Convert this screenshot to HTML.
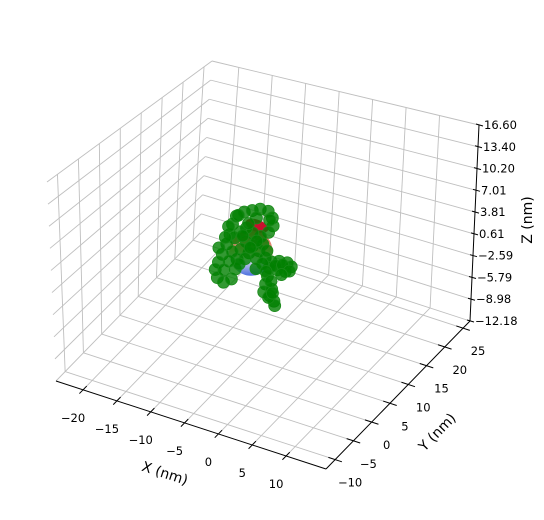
<!DOCTYPE html>
<html><head><meta charset="utf-8"><style>
html,body{margin:0;padding:0;background:#fff;}
svg{display:block;font-family:"DejaVu Sans","Liberation Sans",sans-serif;}
</style></head><body>
<svg id="chart" width="544" height="520" viewBox="0 0 544 520" xmlns="http://www.w3.org/2000/svg">
<g id="grid"></g>
<g id="axes"></g>
<g id="marks"></g>
<text x="165" y="478" font-size="14" text-anchor="middle" transform="rotate(18 165 473)">X (nm)</text>
<text x="437" y="437" font-size="14" text-anchor="middle" transform="rotate(-46 437 432)">Y (nm)</text>
<text x="527" y="225" font-size="14" text-anchor="middle" transform="rotate(-90 527 220)">Z (nm)</text>
</svg>
<script>
const xTicks = [-20, -15, -10, -5, 0, 5, 10];
const yTicks = [-10, -5, 0, 5, 10, 15, 20, 25];
const zTicks = [-12.18, -8.98, -5.79, -2.59, 0.61, 3.81, 7.01, 10.20, 13.40, 16.60];
const zTickLabels = ["\u221212.18","\u22128.98","\u22125.79","\u22122.59","0.61","3.81","7.01","10.20","13.40","16.60"];
const pointX = [-5.4,-4.8,-3.6,-2.4,-1.2,0,0.6,0.7,0,-1.2,-2.4,-3.3,-4.2,-5.1,-5.8,-3.4,-2.4,-1.5,-3.0,-1.9,-0.9,-4.2,-6.3,-7.0,-7.6,-8.1,-7.8,-6.9,-5.7,-5.1,-4.8,-5.5,-0.6,0.3,1.5,2.7,3.3,2.4,1.2,0,-0.3,-0.6,-0.9,0.3,0,0.6,0.7,
  -3.9,-1.8,-0.3,-2.8,-1.0,-3.6,-4.5,-6.0,-6.8,-7.5,-2.0,0.9,2.0,3.0,1.8,-0.5,0.2,-0.2,0.4,-4.5,-1.8,0.2,-6.0,-3.0,-6.5];
const pointY = [2,2,2,2,2,2,2,2,2,2,2,2,2,2,2,2,2,2,2,2,2,2,2,2,2,2,2,2,2,2,2,2,2,2,2,2,2,2,2,2,2,2,2,2,2,2,2,
  2,2,2,2,2,2,2,2,2,2,2,2,2,2,2,2,2,2,2,2,2,2,2,2,2];
const pointZ = [8.5,9.8,10.7,11.2,11.7,11.7,10.9,9.8,8.7,7.8,8.0,8.5,7.7,6.6,6.9,6.5,6.2,5.7,5.0,4.5,6.8,5.2,5.4,3.7,2.4,1.2,0.1,-0.3,0.5,2.1,3.6,4.5,4.9,4.6,5.0,5.1,4.7,3.8,3.7,3.7,2.4,1.2,0,0.7,-0.3,-0.9,-1.5,
  7.2,7.0,6.0,5.8,4.0,4.0,3.0,3.0,1.5,4.5,3.0,4.2,4.6,4.0,3.2,3.0,1.8,-0.6,0.2,10.0,10.3,10.5,8.0,9.2,6.3];
const sphereCenter = [-2.7, 2, 5.1];
const sphereRadius = [3.3];

const xmin=-24, xmax=15.9, ymin=-12.5, ymax=26.9, zmin=-12.18, zmax=16.60;
const A=[56,381],B=[326,469],C=[470,321],D=[200,233];
const At=[47,182],Bt=[312,248],Ct=[479,125],Dt=[212,61];
function bil(p00,p10,p11,p01,u,v){
  return [(1-u)*(1-v)*p00[0]+u*(1-v)*p10[0]+u*v*p11[0]+(1-u)*v*p01[0],
          (1-u)*(1-v)*p00[1]+u*(1-v)*p10[1]+u*v*p11[1]+(1-u)*v*p01[1]];
}
function P(x,y,z){
  const u=(x-xmin)/(xmax-xmin), v=(y-ymin)/(ymax-ymin), w=(z-zmin)/(zmax-zmin);
  const f=bil(A,B,C,D,u,v), t=bil(At,Bt,Ct,Dt,u,v);
  return [f[0]+(t[0]-f[0])*w, f[1]+(t[1]-f[1])*w];
}
const NS="http://www.w3.org/2000/svg";
function line(g,p,q,stroke,sw,name){
  const l=document.createElementNS(NS,'line');
  l.setAttribute('x1',p[0]);l.setAttribute('y1',p[1]);l.setAttribute('x2',q[0]);l.setAttribute('y2',q[1]);
  l.setAttribute('stroke',stroke);l.setAttribute('stroke-width',sw);
  
  
  g.appendChild(l);
}
function text(g,x,y,s,anchor,name){
  const t=document.createElementNS(NS,'text');
  t.setAttribute('x',x);t.setAttribute('y',y);t.setAttribute('font-size','11.5');t.setAttribute('text-anchor',anchor);
  t.textContent=s;
  
  
  g.appendChild(t);
}
const grid=document.getElementById('grid'), axes=document.getElementById('axes'), marks=document.getElementById('marks');
const gc='#bfbfbf';
xTicks.forEach(x=>{
  line(grid,P(x,ymin,zmin),P(x,ymax,zmin),gc,0.9,'floor-grid-x');
  line(grid,P(x,ymax,zmin),P(x,ymax,zmax),gc,0.9,'back-grid-x');
});
yTicks.forEach(y=>{
  line(grid,P(xmin,y,zmin),P(xmax,y,zmin),gc,0.9,'floor-grid-y');
  line(grid,P(xmin,y,zmin),P(xmin,y,zmax),gc,0.9,'left-grid-y');
});
zTicks.forEach(z=>{
  line(grid,P(xmin,ymin,z),P(xmin,ymax,z),gc,0.9,'left-grid-z');
  line(grid,P(xmin,ymax,z),P(xmax,ymax,z),gc,0.9,'back-grid-z');
});
line(axes,P(xmin,ymin,zmin),P(xmax,ymin,zmin),'#000',1,'x-axis-line');
line(axes,P(xmax,ymin,zmin),P(xmax,ymax,zmin),'#000',1,'y-axis-line');
line(axes,P(xmax,ymax,zmin),P(xmax,ymax,zmax),'#000',1,'z-axis-line');
xTicks.forEach(x=>{
  const p=P(x,ymin,zmin);
  line(axes,P(x,ymin-1,zmin),P(x,ymin+1,zmin),'#000',1,'x-tick');
  text(axes,p[0]-10,p[1]+32,String(x).replace('-','\u2212'),'middle','x-tick-label');
});
yTicks.forEach(y=>{
  const p=P(xmax,y,zmin);
  line(axes,P(xmax-1,y,zmin),P(xmax+1,y,zmin),'#000',1,'y-tick');
  text(axes,p[0]+15,p[1]+27,String(y).replace('-','\u2212'),'middle','y-tick-label');
});
zTicks.forEach((z,i)=>{
  const p=P(xmax,ymax,z);
  line(axes,[p[0]-3,p[1]-1],[p[0]+4,p[1]+1],'#000',1,'z-tick');
  text(axes,p[0]+5,p[1]+4,zTickLabels[i],'start','z-tick-label');
});
const defs=document.createElementNS(NS,'defs');
defs.innerHTML='<linearGradient id="sg" x1="0" y1="0" x2="0" y2="1"><stop offset="0" stop-color="#d83a3a"/><stop offset="0.45" stop-color="#e8a58a"/><stop offset="0.65" stop-color="#dcdce8"/><stop offset="1" stop-color="#4c6fe0"/></linearGradient>';
document.getElementById('chart').insertBefore(defs,grid);
const sc=P(sphereCenter[0],sphereCenter[1],sphereCenter[2]);
const st=P(sphereCenter[0],sphereCenter[1],sphereCenter[2]+sphereRadius[0]);
const rr=sc[1]-st[1];
const sph=document.createElementNS(NS,'ellipse');
sph.setAttribute('cx',sc[0]);sph.setAttribute('cy',sc[1]);sph.setAttribute('rx',rr*0.95);sph.setAttribute('ry',rr);
sph.setAttribute('fill','url(#sg)');


marks.appendChild(sph);
const red=document.createElementNS(NS,'ellipse');
red.setAttribute('cx',sc[0]+6);red.setAttribute('cy',sc[1]-27);red.setAttribute('rx',12);red.setAttribute('ry',6);
red.setAttribute('fill','#c8102e');red.setAttribute('transform','rotate(20 '+(sc[0]+6)+' '+(sc[1]-27)+')');


marks.appendChild(red);
pointX.forEach((x,i)=>{
  const p=P(x,pointY[i],pointZ[i]);
  const c=document.createElementNS(NS,'circle');
  c.setAttribute('cx',p[0]);c.setAttribute('cy',p[1]);c.setAttribute('r',6);
  c.setAttribute('fill','#008000');c.setAttribute('fill-opacity','0.8');
  c.setAttribute('stroke','#1a8a1a');c.setAttribute('stroke-width','0.8');
  
  
  marks.appendChild(c);
});
</script>
</body></html>
